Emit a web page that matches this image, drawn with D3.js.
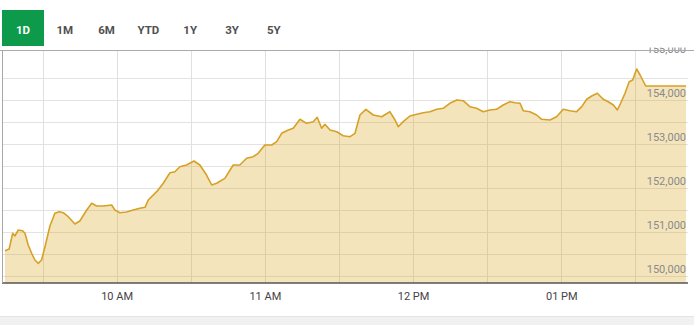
<!DOCTYPE html>
<html>
<head>
<meta charset="utf-8">
<script src="https://cdn.jsdelivr.net/npm/d3@7"></script>
<style>
  html, body { margin: 0; padding: 0; background: #fff; }
  svg { display: block; font-family: Roboto, "Noto Sans", sans-serif; }
</style>
</head>
<body>
<svg id="chart" width="694" height="325"></svg>
<script>
const rangeButtons = ["1D", "1M", "6M", "YTD", "1Y", "3Y", "5Y"];
const activeButton = "1D";

const times = ["09:14:48","09:16:30","09:17:54","09:18:48","09:20:12","09:21:54","09:22:54","09:24:12","09:25:36","09:26:54",
"09:28:18","09:29:36","09:31:00","09:33:00","09:35:00","09:36:48","09:38:24","09:40:24","09:43:06","09:45:06",
"09:47:54","09:49:54","09:51:54","09:54:36","09:58:00","09:59:18","10:01:18","10:04:00","10:06:42","10:09:24",
"10:11:30","10:12:48","10:16:12","10:18:54","10:21:36","10:23:36","10:25:36","10:28:18","10:31:18","10:33:42",
"10:36:24","10:38:30","10:40:30","10:43:48","10:47:12","10:49:54","10:52:36","10:55:18","10:57:18","11:00:00",
"11:02:48","11:04:48","11:06:48","11:09:30","11:11:30","11:14:12","11:16:54","11:19:36","11:21:12","11:23:00",
"11:24:18","11:26:24","11:29:06","11:31:42","11:34:30","11:36:30","11:38:30","11:40:54","11:43:54","11:47:18",
"11:50:36","11:52:42","11:54:00","11:56:00","11:58:42","12:01:30","12:04:06","12:06:48","12:09:36","12:12:12",
"12:14:54","12:17:42","12:20:18","12:23:00","12:25:42","12:28:24","12:31:06","12:33:48","12:36:30","12:39:12",
"12:41:18","12:43:18","12:44:36","12:47:18","12:50:00","12:52:06","12:55:24","12:58:06","13:00:48","13:03:30",
"13:06:12","13:08:18","13:10:18","13:12:18","13:14:36","13:17:00","13:19:00","13:21:06","13:22:42","13:24:00",
"13:25:48","13:27:30","13:28:54","13:30:30","13:31:54","13:34:12","13:50:30"];

const values = [150582,150620,150977,150916,151052,151036,150977,150711,150523,150370,
150295,150370,150673,151143,151432,151468,151445,151355,151189,151257,
151507,151659,151598,151598,151620,151507,151445,151461,151507,151545,
151568,151734,151923,152114,152355,152377,152491,152530,152620,152530,
152302,152075,152114,152227,152530,152530,152682,152718,152795,152984,
152984,153059,153250,153325,153364,153568,153477,153514,153614,153364,
153455,153325,153286,153195,153173,153250,153666,153795,153666,153627,
153741,153552,153400,153514,153643,153682,153718,153741,153795,153818,
153932,154007,153991,153855,153818,153741,153780,153795,153893,153968,
153945,153932,153764,153741,153666,153568,153552,153627,153795,153764,
153741,153855,154023,154098,154159,154023,153968,153893,153780,153932,
154159,154423,154461,154711,154575,154325,154325];

const yTickValues = [150000, 151000, 152000, 153000, 154000, 155000];
const yGridValues = [150000, 150500, 151000, 151500, 152000, 152500, 153000, 153500, 154000, 154500];
const xTickLabels = ["10 AM", "11 AM", "12 PM", "01 PM"];
const xTickTimes = ["10:00:00", "11:00:00", "12:00:00", "13:00:00"];
const xGridTimes = ["09:30:00","10:00:00","10:30:00","11:00:00","11:30:00","12:00:00","12:30:00","13:00:00","13:30:00"];
const xDomain = ["09:13:48", "13:51:18"];

const parse = d3.timeParse("%H:%M:%S");
const data = times.map((t, i) => ({ t: parse(t), v: values[i] }));

const svg = d3.select("#chart");
const W = 694, H = 325;
const plot = { left: 2.5, right: 688, top: 50.5, bottom: 283 };

const x = d3.scaleTime().domain(xDomain.map(parse)).range([plot.left, plot.right]);
const y = d3.scaleLinear().domain([150000, 155000]).range([276.3, 56.3]);

// grid
const grid = svg.append("g");
grid.selectAll("line.h").data(yGridValues).join("line")
  .attr("x1", plot.left).attr("x2", plot.right)
  .attr("y1", d => Math.round(y(d)) + 0.5).attr("y2", d => Math.round(y(d)) + 0.5)
  .attr("stroke", "#e3e3e3").attr("stroke-width", 1);
grid.selectAll("line.v").data(xGridTimes.map(parse)).join("line")
  .attr("x1", d => Math.round(x(d)) + 0.5).attr("x2", d => Math.round(x(d)) + 0.5)
  .attr("y1", plot.top).attr("y2", plot.bottom)
  .attr("stroke", "#e0e0e0").attr("stroke-width", 1);

// area + line
const area = d3.area().x(d => x(d.t)).y0(plot.bottom).y1(d => y(d.v));
const line = d3.line().x(d => x(d.t)).y(d => y(d.v));
svg.append("path").datum(data).attr("d", area)
  .attr("fill", "#d9a520").attr("fill-opacity", 0.3);
svg.append("path").datum(data).attr("d", line)
  .attr("fill", "none").attr("stroke", "#d6a126").attr("stroke-width", 1.6)
  .attr("stroke-linejoin", "round");

// y labels (inside plot, right)
svg.append("g").selectAll("text").data(yTickValues).join("text")
  .attr("x", 686).attr("y", d => y(d) - 3.5)
  .attr("text-anchor", "end")
  .attr("font-size", "11px").attr("fill", "#8a8a8a")
  .text(d => d3.format(",")(d));

// x axis
const xAxis = d3.axisBottom(x)
  .tickValues(xTickTimes.map(parse))
  .tickFormat((d, i) => xTickLabels[i])
  .tickSize(0).tickPadding(9);
const gx = svg.append("g").attr("transform", `translate(0,${plot.bottom})`).call(xAxis);
gx.select(".domain").remove();
gx.selectAll("text").attr("font-size", "11px").attr("fill", "#444").attr("font-family", "Roboto, sans-serif");
svg.append("line").attr("x1", plot.left - 0.5).attr("x2", plot.right)
  .attr("y1", plot.bottom).attr("y2", plot.bottom)
  .attr("stroke", "#555").attr("stroke-width", 1.5);

// left border
svg.append("line").attr("x1", plot.left).attr("x2", plot.left)
  .attr("y1", plot.top).attr("y2", plot.bottom)
  .attr("stroke", "#a8a8a8").attr("stroke-width", 1);

// header cover and top border
svg.append("rect").attr("x", 0).attr("y", 0).attr("width", W).attr("height", 47.5).attr("fill", "#fff");
svg.append("line").attr("x1", 0).attr("x2", W).attr("y1", plot.top).attr("y2", plot.top)
  .attr("stroke", "#aaa").attr("stroke-width", 1);

// buttons
const btnCenters = rangeButtons.map((b, i) => 23 + i * 41.8);
svg.append("rect").attr("x", 2).attr("y", 10).attr("width", 42).attr("height", 36).attr("fill", "#0d9b4b");
svg.append("g").selectAll("text").data(rangeButtons).join("text")
  .attr("x", (d, i) => btnCenters[i]).attr("y", 33.5)
  .attr("text-anchor", "middle")
  .attr("font-size", "11.5px").attr("font-weight", "bold")
  .attr("fill", d => d === activeButton ? "#fff" : "#505050")
  .text(d => d);

// bottom band
svg.append("rect").attr("x", 0).attr("y", 317).attr("width", W).attr("height", 8).attr("fill", "#f1f1f1");
svg.append("line").attr("x1", 0).attr("x2", W).attr("y1", 316.5).attr("y2", 316.5).attr("stroke", "#e4e4e4");
</script>
</body>
</html>
